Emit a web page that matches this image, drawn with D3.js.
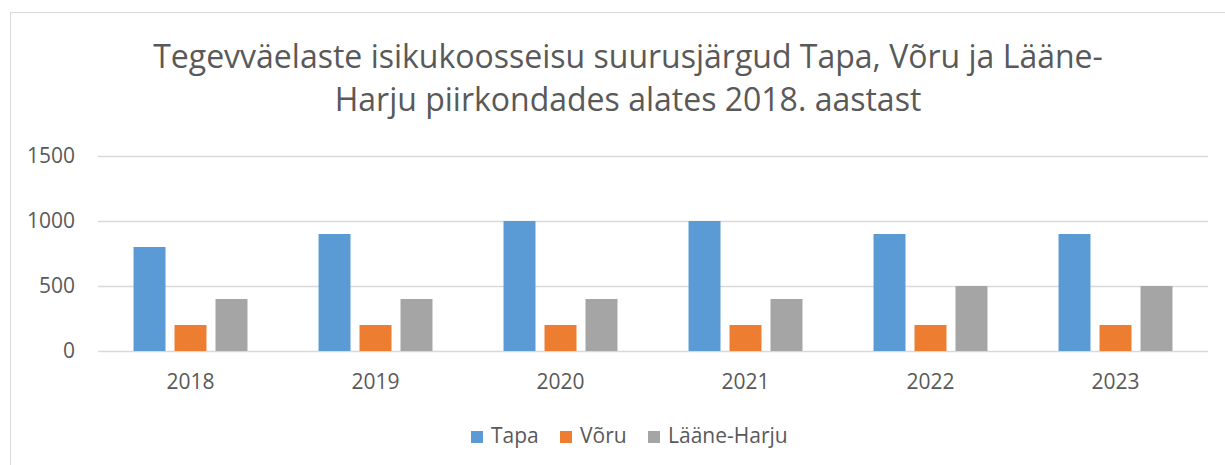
<!DOCTYPE html>
<html>
<head>
<meta charset="utf-8">
<script src="https://cdn.jsdelivr.net/npm/d3@7"></script>
<style>
  body { margin: 0; background: #fff; }
  text { font-family: "Open Sans", sans-serif; fill: #595959; }
</style>
</head>
<body>
<svg id="chart" width="1225" height="465"></svg>
<script>
const years = ['2018', '2019', '2020', '2021', '2022', '2023'];
const seriesNames = ['Tapa', 'Võru', 'Lääne-Harju'];
const tapa = [800, 900, 1000, 1000, 900, 900];
const voru = [200, 200, 200, 200, 200, 200];
const laaneHarju = [400, 400, 400, 400, 500, 500];
const yTicks = [0, 500, 1000, 1500];
const titleLines = ['Tegevväelaste isikukoosseisu suurusjärgud Tapa, Võru ja Lääne-',
  'Harju piirkondades alates 2018. aastast'];

const colors = ['#5b9bd5', '#ed7d31', '#a5a5a5'];
const margin = { top: 156, right: 17, bottom: 114, left: 98 };
const W = 1225, H = 465;

const svg = d3.select('#chart');

// outer chart frame (runs off the right / bottom edge)
svg.append('rect')
  .attr('x', 10.5).attr('y', 12.5)
  .attr('width', 1400).attr('height', 600)
  .attr('fill', 'none')
  .attr('stroke', '#d9d9d9');

// title
svg.append('g')
  .selectAll('text')
  .data(titleLines)
  .join('text')
  .attr('x', 628)
  .attr('y', (d, i) => 68 + i * 43)
  .attr('text-anchor', 'middle')
  .style('font-size', '32px')
  .text(d => d);

const x0 = d3.scaleBand()
  .domain(years)
  .range([margin.left, W - margin.right])
  .paddingInner(0.384)
  .paddingOuter(0.192);

const x1 = d3.scaleBand()
  .domain(seriesNames)
  .range([0, x0.bandwidth()])
  .paddingInner(0.22);

const y = d3.scaleLinear()
  .domain([0, 1500])
  .range([H - margin.bottom, margin.top]);

// gridlines + y labels
const yAxis = d3.axisLeft(y)
  .tickValues(yTicks)
  .tickFormat(d3.format('d'))
  .tickSize(-(W - margin.right - margin.left))
  .tickPadding(23);

svg.append('g')
  .attr('transform', `translate(${margin.left},0)`)
  .call(yAxis)
  .call(g => g.select('.domain').remove())
  .call(g => g.selectAll('line').attr('stroke', '#d9d9d9').attr('stroke-width', 1.5))
  .call(g => g.selectAll('text').style('font-size', '21px').attr('fill', '#595959'));

// bars
const rows = years.map((yr, i) => ({ year: yr, values: [tapa[i], voru[i], laaneHarju[i]] }));

svg.append('g')
  .selectAll('g')
  .data(rows)
  .join('g')
  .attr('transform', d => `translate(${x0(d.year)},0)`)
  .selectAll('rect')
  .data(d => d.values.map((v, k) => ({ key: seriesNames[k], value: v, k })))
  .join('rect')
  .attr('x', d => x1(d.key))
  .attr('y', d => y(d.value))
  .attr('width', x1.bandwidth())
  .attr('height', d => y(0) - y(d.value))
  .attr('fill', d => colors[d.k]);

// x axis labels
const xAxis = d3.axisBottom(x0).tickSize(0).tickPadding(23);
svg.append('g')
  .attr('transform', `translate(0,${y(0)})`)
  .call(xAxis)
  .call(g => g.select('.domain').remove())
  .call(g => g.selectAll('text').style('font-size', '21px').attr('fill', '#595959'));

// legend
const legendX = [471, 560, 648];
const legend = svg.append('g')
  .selectAll('g')
  .data(seriesNames)
  .join('g')
  .attr('transform', (d, i) => `translate(${legendX[i]},431)`);

legend.append('rect')
  .attr('width', 12).attr('height', 12)
  .attr('fill', (d, i) => colors[i]);

legend.append('text')
  .attr('x', 20)
  .attr('y', 12)
  .style('font-size', '21px')
  .text(d => d);
</script>
</body>
</html>
